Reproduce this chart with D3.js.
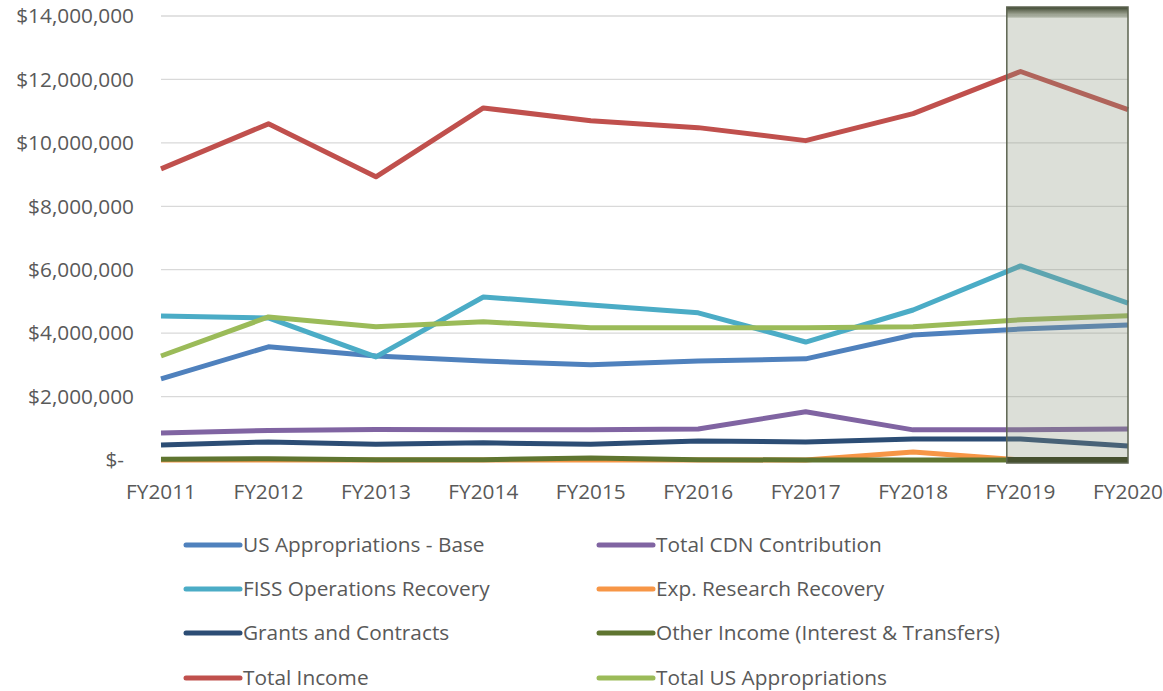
<!DOCTYPE html>
<html><head><meta charset="utf-8">
<script src="https://cdn.jsdelivr.net/npm/d3@7/dist/d3.min.js"></script>
<style>body{margin:0;background:#fff}svg{display:block}</style>
</head><body>
<svg id="c" width="1163" height="691"></svg>
<script>
const years = ["FY2011","FY2012","FY2013","FY2014","FY2015","FY2016","FY2017","FY2018","FY2019","FY2020"];
const yTicks = [0,2000000,4000000,6000000,8000000,10000000,12000000,14000000];
const usApproBase   = [2560000,3570000,3280000,3120000,3000000,3120000,3190000,3940000,4130000,4260000];
const cdnContrib    = [850000,930000,960000,950000,950000,980000,1520000,950000,950000,980000];
const fissRecovery  = [4540000,4480000,3250000,5140000,4890000,4640000,3720000,4730000,6120000,4950000];
const expResearch   = [0,0,0,0,0,0,0,250000,0,0];
const grants        = [470000,570000,500000,540000,500000,600000,570000,660000,660000,440000];
const otherIncome   = [20000,40000,10000,10000,60000,10000,0,0,0,0];
const totalIncome   = [9180000,10600000,8930000,11100000,10700000,10480000,10070000,10920000,12250000,11050000];
const totalUSAppro  = [3280000,4510000,4200000,4360000,4170000,4170000,4170000,4200000,4420000,4550000];
const seriesNames = ["US Appropriations - Base","Total CDN Contribution","FISS Operations Recovery","Exp. Research Recovery","Grants and Contracts","Other Income (Interest & Transfers)","Total Income","Total US Appropriations"];
const seriesVals = [usApproBase,cdnContrib,fissRecovery,expResearch,grants,otherIncome,totalIncome,totalUSAppro];
const colors = ["#4f81bd","#8064a2","#4bacc6","#f79646","#2c4d75","#5f7530","#c0504d","#9bbb59"];
const highlightYears = ["FY2019","FY2020"];

const svg = d3.select("#c");
const font = "'Open Sans', 'Liberation Sans', sans-serif";
const fs = 20.8;
const x = d3.scalePoint().domain(years).range([161,1128]);
const y = d3.scaleLinear().domain([0,14000000]).range([460,16]);
const step = x.step();

// gridlines
svg.append("g").selectAll("line").data(yTicks.filter(d=>d>0)).join("line")
  .attr("x1",x.range()[0]).attr("x2",x.range()[1])
  .attr("y1",d=>y(d)).attr("y2",d=>y(d))
  .attr("stroke","#d9d9d9").attr("stroke-width",1.3);

// y labels
const fmt = d => d===0 ? "$-" : "$" + d3.format(",")(d);
svg.append("g").selectAll("text").data(yTicks).join("text")
  .attr("x",d=>d===0?124:134).attr("y",d=>y(d)).attr("dy","0.35em")
  .attr("text-anchor","end").attr("font-family",font).attr("font-size",fs)
  .attr("fill","#595959").text(fmt);

// x labels
svg.append("g").selectAll("text").data(years).join("text")
  .attr("x",d=>x(d)).attr("y",492).attr("dy","0.35em")
  .attr("text-anchor","middle").attr("font-family",font).attr("font-size",fs)
  .attr("fill","#595959").text(d=>d);

// lines
const line = d3.line().x((d,i)=>x(years[i])).y(d=>y(d));
const drawOrder = [0,1,2,3,4,5,6,7];
svg.append("g").selectAll("path").data(drawOrder).join("path")
  .attr("d",i=>line(seriesVals[i])).attr("fill","none")
  .attr("stroke",i=>colors[i]).attr("stroke-width",5)
  .attr("stroke-linejoin","round");

// highlight box
const hx0 = x(highlightYears[0]) - step*0.128;
const hx1 = x(highlightYears[1]);
const hy0 = y(14000000) - 9, hy1 = y(0) + 3;
const defs = svg.append("defs");
const g1 = defs.append("linearGradient").attr("id","topband").attr("x1",0).attr("x2",0).attr("y1",0).attr("y2",1);
g1.append("stop").attr("offset",0).attr("stop-color","#38422c").attr("stop-opacity",1);
g1.append("stop").attr("offset",0.5).attr("stop-color","#6f7660").attr("stop-opacity",0.8);
g1.append("stop").attr("offset",1).attr("stop-color","#8a947d").attr("stop-opacity",0.3);
svg.append("rect").attr("x",hx0).attr("y",hy0).attr("width",hx1-hx0).attr("height",hy1-hy0)
  .attr("fill","rgb(138,148,125)").attr("fill-opacity",0.3);
svg.append("rect").attr("x",hx0).attr("y",hy0).attr("width",hx1-hx0).attr("height",11)
  .attr("fill","url(#topband)");
svg.append("rect").attr("x",hx0).attr("y",hy1-6).attr("width",hx1-hx0).attr("height",6)
  .attr("fill","#46502f");
svg.append("rect").attr("x",hx0).attr("y",hy0).attr("width",hx1-hx0).attr("height",hy1-hy0)
  .attr("fill","none").attr("stroke","#5d6450").attr("stroke-width",1.5);

// legend
const legRows = [545,589,633,678];
const lg = svg.append("g");
seriesNames.forEach((n,i)=>{
  const col = i%2, row = Math.floor(i/2);
  const lx = col===0 ? 186 : 599;
  const ly = legRows[row];
  lg.append("line").attr("x1",lx).attr("x2",lx+54).attr("y1",ly).attr("y2",ly)
    .attr("stroke",colors[i]).attr("stroke-width",5).attr("stroke-linecap","round");
  lg.append("text").attr("x",lx+57).attr("y",ly).attr("dy","0.35em")
    .attr("font-family",font).attr("font-size",fs).attr("fill","#595959").text(n);
});
</script>
</body></html>
